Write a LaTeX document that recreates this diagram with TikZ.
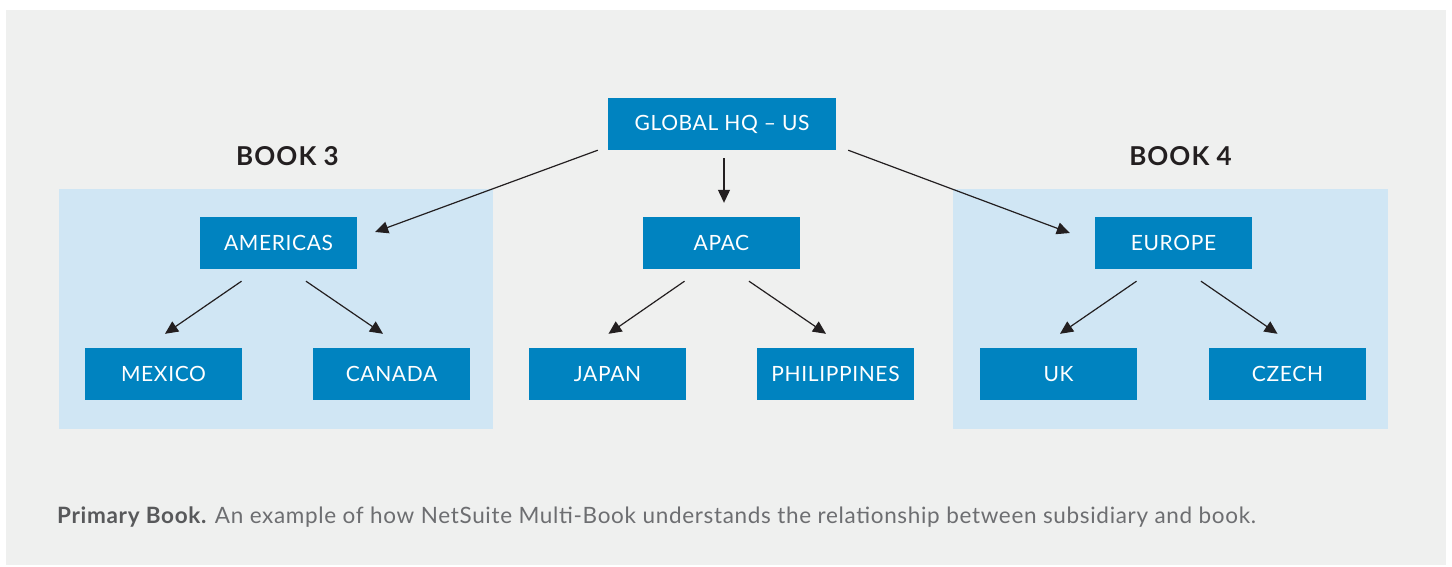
\documentclass[tikz,border=0pt]{standalone}
\usepackage{fontspec}
\setmainfont{Lato}
\newfontfamily\boxfont{Lato}[LetterSpace=3,WordSpace=2]
\newfontfamily\bookfont{Lato}[LetterSpace=4]
\newfontfamily\captionfont{Lato}[LetterSpace=3]
\usetikzlibrary{arrows.meta}

\definecolor{subblue}{HTML}{0083C0}
\definecolor{bookblue}{HTML}{D0E6F4}
\definecolor{panelgray}{HTML}{EFF0EF}
\definecolor{inkdark}{HTML}{231F20}
\definecolor{captiongray}{HTML}{6D6E71}
\definecolor{captiondark}{HTML}{58595B}

\tikzset{
  sub/.style={fill=subblue, text=white, minimum width=157pt, minimum height=52pt,
    inner sep=0pt, font=\boxfont\fontsize{21}{25}\selectfont},
  link/.style={draw=inkdark, line width=1.2pt, -{Triangle[length=13pt,width=12pt]}},
  booklabel/.style={text=inkdark, font=\bookfont\fontsize{26}{30}\selectfont\bfseries},
}

\begin{document}
\begin{tikzpicture}[x=1pt,y=-1pt]
  \useasboundingbox (0,0) rectangle (1452,566);
  % backdrop and the two book panels
  \fill[panelgray] (6,10) rectangle (1446,565);
  \fill[bookblue] (59,189) rectangle (493,429);
  \fill[bookblue] (953,189) rectangle (1388,429);

  \node[booklabel] (book3) at (287.5,156) {BOOK 3};
  \node[booklabel] (book4) at (1180.5,156) {BOOK 4};

  % subsidiaries
  \node[sub, minimum width=228pt] (hq) at (722,124) {GLOBAL HQ – US};
  \node[sub] (americas) at (278.5,243) {AMERICAS};
  \node[sub] (apac) at (721.5,243) {APAC};
  \node[sub] (europe) at (1173.5,243) {EUROPE};
  \node[sub] (mexico) at (163.5,374) {MEXICO};
  \node[sub] (canada) at (391.5,374) {CANADA};
  \node[sub] (japan) at (607.5,374) {JAPAN};
  \node[sub] (philippines) at (835.5,374) {PHILIPPINES};
  \node[sub] (uk) at (1058.5,374) {UK};
  \node[sub] (czech) at (1287.5,374) {CZECH};

  \begin{scope}[link]
    \draw ([xshift=-10pt]hq.south west) -- ([xshift=18pt,yshift=11pt]americas.east);
    \draw ([xshift=2pt,yshift=-8pt]hq.south) -- ([xshift=2.5pt,yshift=14pt]apac.north);
    \draw ([xshift=12pt]hq.south east) -- ([xshift=-25pt,yshift=10pt]europe.west);
    \draw ([xshift=-37pt,yshift=-12pt]americas.south) -- ([xshift=1.5pt,yshift=14pt]mexico.north);
    \draw ([xshift=27.5pt,yshift=-12pt]americas.south) -- ([xshift=-8.5pt,yshift=14pt]canada.north);
    \draw ([xshift=-37pt,yshift=-12pt]apac.south) -- ([xshift=1pt,yshift=14pt]japan.north);
    \draw ([xshift=27.5pt,yshift=-12pt]apac.south) -- ([xshift=-9.5pt,yshift=14pt]philippines.north);
    \draw ([xshift=-37pt,yshift=-12pt]europe.south) -- ([xshift=1.5pt,yshift=14pt]uk.north);
    \draw ([xshift=27.5pt,yshift=-12pt]europe.south) -- ([xshift=-10pt,yshift=14pt]czech.north);
  \end{scope}

  \node[anchor=base west, inner sep=0pt, text=captiongray, font=\captionfont\fontsize{22.5}{27}\selectfont]
    (caption) at (57,523)
    {\textcolor{captiondark}{\bfseries Primary Book.} An example of how NetSuite Multi-Book understands the relationship between subsidiary and book.};
\end{tikzpicture}
\end{document}
